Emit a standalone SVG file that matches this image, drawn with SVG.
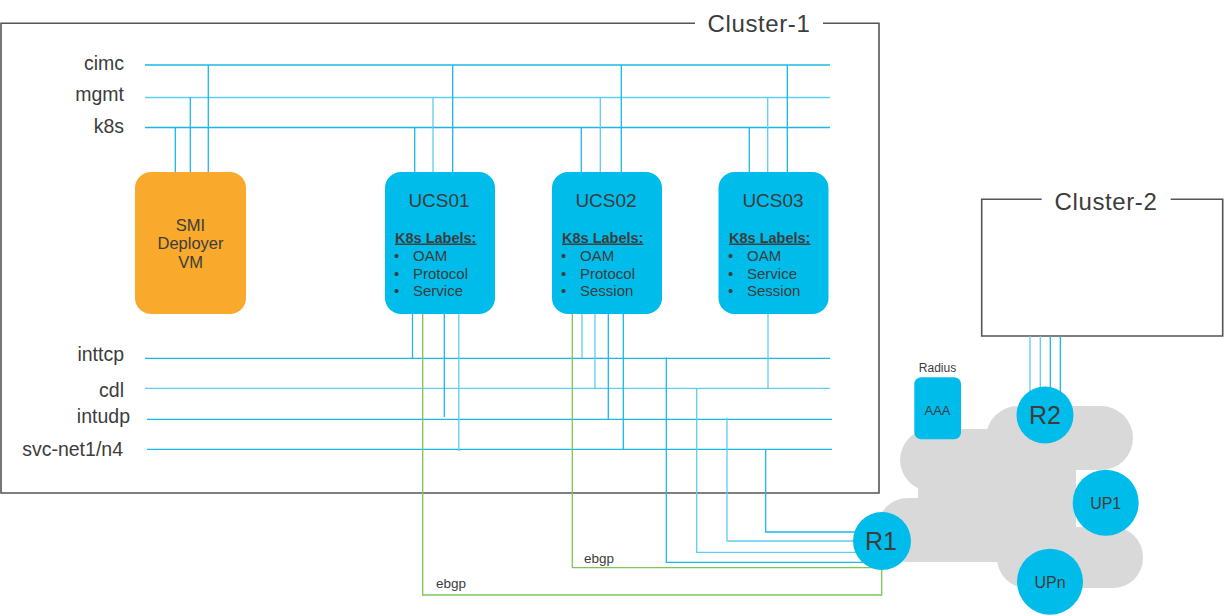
<svg xmlns="http://www.w3.org/2000/svg" width="1224" height="616" viewBox="0 0 1224 616">
<style>
text{font-family:"Liberation Sans",Arial,sans-serif;fill:#3c3c3c}
.frame{fill:none;stroke:#555;stroke-width:1.6}
.net{fill:none;stroke:#1ab8e7;stroke-width:1.3}
.lt{fill:none;stroke:#5fcdf0;stroke-width:1.3}
.bgp{fill:none;stroke:#7dc45b;stroke-width:1.3}
.cloud{fill:#d9d9d9}
.node{fill:#00bceb}
.lbl{font-size:19.5px;text-anchor:end}
.title{font-size:24px;text-anchor:middle;letter-spacing:0.6px}
.ucs{font-size:19px;text-anchor:middle}
.k8s{font-size:14.5px;font-weight:bold;text-decoration:underline}
.item{font-size:15px}
.smi{font-size:16.5px;text-anchor:middle}
.small{font-size:13.5px}
</style>

<g id="cluster-1">
<path class="frame" d="M695,23.3 H1 V493 H879 V23.3 H823"/>
<text class="title" x="759" y="32.3">Cluster-1</text>
</g>
<g id="cluster-2">
<path class="frame" d="M1041.7,199.3 H981.7 V336 H1222.7 V199.3 H1170.7"/>
<text class="title" x="1106" y="209.5">Cluster-2</text>
</g>

<g id="network-cloud">
<rect class="cloud" x="986" y="406" width="147" height="64" rx="32"/>
<rect class="cloud" x="900" y="429" width="140" height="62" rx="31"/>
<rect class="cloud" x="918" y="440" width="158" height="105"/>
<rect class="cloud" x="877" y="498" width="150" height="64" rx="31"/>
<rect class="cloud" x="997" y="527" width="146" height="61" rx="30"/>
<rect class="cloud" x="1000" y="460" width="70" height="80"/>
</g>

<g id="network-labels">
<text class="lbl" x="124" y="70">cimc</text>
<text class="lbl" x="124" y="100.5">mgmt</text>
<text class="lbl" x="124" y="132.7">k8s</text>
<text class="lbl" x="124" y="361">inttcp</text>
<text class="lbl" x="124" y="397.3">cdl</text>
<text class="lbl" x="130" y="422.7">intudp</text>
<text class="lbl" x="123" y="456">svc-net1/n4</text>
</g>

<g id="connectors">
<path class="net" d="M145,65 H830"/>
<path class="lt" d="M145,97.5 H830"/>
<path class="net" d="M145,127.5 H830"/>
<path class="net" d="M145,358.3 H830"/>
<path class="lt" d="M145,388.3 H830"/>
<path class="net" d="M147,419.3 H832"/>
<path class="net" d="M147,449.3 H832"/>
<path class="net" d="M175.3,127.5 V172 M190.3,97.5 V172 M208.3,65 V172"/>
<path class="net" d="M414.7,127.5 V172 M452.7,65 V172"/>
<path class="lt" d="M433,97.5 V172"/>
<path class="net" d="M412.5,314 V358.3 M444.3,314 V417"/>
<path class="lt" d="M458.8,314 V451"/>
<path class="net" d="M581.3,127.5 V172 M621.3,65 V172"/>
<path class="lt" d="M600.3,97.5 V172"/>
<path class="lt" d="M582,314 V358.3 M595,314 V388.3"/>
<path class="net" d="M608.3,314 V419.3 M623.3,314 V449.3"/>
<path class="net" d="M749.3,127.5 V172 M787.3,65 V172"/>
<path class="lt" d="M767.7,97.5 V172"/>
<path class="lt" d="M768,314 V388.3"/>
<path class="net" d="M666.3,357.5 V562.3 H880"/>
<path class="lt" d="M696.7,388.3 V552.3 H880"/>
<path class="lt" d="M727,417.7 V541 H880"/>
<path class="net" d="M765.7,449.3 V532 H880"/>
<path class="bgp" d="M422.7,314 V595 H881.7 V560"/>
<path class="bgp" d="M572.3,314 V567.7 H880"/>
<text class="small" x="436" y="588">ebgp</text>
<text class="small" x="584" y="562.7">ebgp</text>
<path class="lt" d="M1030,336 V400"/>
<path class="lt" d="M1040.3,336 V400"/>
<path class="net" d="M1050.3,336 V400 M1060.3,336 V400"/>
</g>

<g id="smi-deployer">
<rect x="135" y="172" width="111" height="142" rx="16" fill="#f9a92b"/>
<text class="smi" x="190.5" y="230.7">SMI</text>
<text class="smi" x="190.5" y="249.3">Deployer</text>
<text class="smi" x="190.5" y="267.7">VM</text>
</g>

<g id="ucs01">
<rect class="node" x="385" y="172" width="110" height="142" rx="16"/>
<text class="ucs" x="439" y="206.7">UCS01</text>
<text class="k8s" x="395" y="242.5">K8s Labels:</text>
<text class="item" x="394" y="260.7">•</text><text class="item" x="413" y="260.7">OAM</text>
<text class="item" x="394" y="278.7">•</text><text class="item" x="413" y="278.7">Protocol</text>
<text class="item" x="394" y="295.5">•</text><text class="item" x="413" y="295.5">Service</text>
</g>

<g id="ucs02">
<rect class="node" x="552" y="172" width="110" height="142" rx="16"/>
<text class="ucs" x="606" y="206.7">UCS02</text>
<text class="k8s" x="562" y="242.5">K8s Labels:</text>
<text class="item" x="561" y="260.7">•</text><text class="item" x="580" y="260.7">OAM</text>
<text class="item" x="561" y="278.7">•</text><text class="item" x="580" y="278.7">Protocol</text>
<text class="item" x="561" y="295.5">•</text><text class="item" x="580" y="295.5">Session</text>
</g>

<g id="ucs03">
<rect class="node" x="718.5" y="172" width="110" height="142" rx="16"/>
<text class="ucs" x="773" y="206.7">UCS03</text>
<text class="k8s" x="729" y="242.5">K8s Labels:</text>
<text class="item" x="728" y="260.7">•</text><text class="item" x="747" y="260.7">OAM</text>
<text class="item" x="728" y="278.7">•</text><text class="item" x="747" y="278.7">Service</text>
<text class="item" x="728" y="295.5">•</text><text class="item" x="747" y="295.5">Session</text>
</g>

<g id="aaa">
<text x="937.5" y="371.7" text-anchor="middle" font-size="12">Radius</text>
<rect class="node" x="914.3" y="377.3" width="46.7" height="62" rx="7"/>
<text x="937.5" y="415" text-anchor="middle" font-size="13">AAA</text>
</g>

<g id="r1">
<circle class="node" cx="882" cy="541" r="29"/>
<text x="881" y="550" text-anchor="middle" font-size="25">R1</text>
</g>
<g id="r2">
<circle class="node" cx="1045" cy="415" r="28.5"/>
<text x="1045" y="424" text-anchor="middle" font-size="25">R2</text>
</g>
<g id="up1">
<circle class="node" cx="1105.7" cy="502.7" r="33"/>
<text x="1105.7" y="508.5" text-anchor="middle" font-size="16">UP1</text>
</g>
<g id="upn">
<circle class="node" cx="1050" cy="581.7" r="33"/>
<text x="1050" y="587.5" text-anchor="middle" font-size="16">UPn</text>
</g>
</svg>
